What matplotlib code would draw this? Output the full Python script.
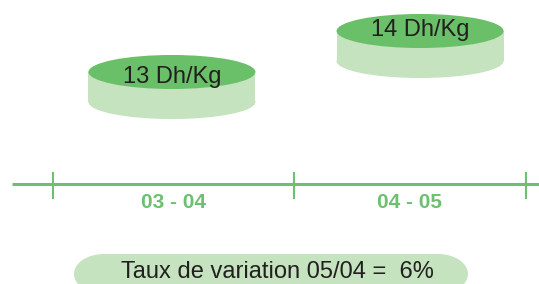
import matplotlib
matplotlib.use('Agg')
import matplotlib.pyplot as plt
from matplotlib.patches import Ellipse, Rectangle

# ─── Data ─────────────────────────────────────────────
periods = ['03 - 04', '04 - 05']
prices = [13, 14]
price_labels = ['13 Dh/Kg', '14 Dh/Kg']
variation_text = 'Taux de variation 05/04 =  6%'

# ─── Colors ───────────────────────────────────────────
TOP_GREEN = '#6abf69'
SIDE_GREEN = '#c4e3be'
AXIS_GREEN = '#6cc070'
TEXT_DARK = '#231f20'

plt.rcParams['font.family'] = ['Liberation Sans', 'DejaVu Sans']

fig = plt.figure(figsize=(5.39, 2.84), dpi=100)
fig.patch.set_facecolor('white')
ax = fig.add_axes([0, 0, 1, 1])
ax.set_xlim(-0.224, 2.055)
ax.set_ylim(7.829, 14.756)
ax.axis('off')

# disc geometry (data units)
half_w = 0.353
half_h = 0.415
thick = 0.732
centers = [0.503, 1.552]
label_dy = [-0.12, 0.02]
axis_y = 10.268
tick_x = [0, 1.019, 2]

# ─── Discs ────────────────────────────────────────────
for cx, val, lab, dy in zip(centers, prices, price_labels, label_dy):
    ax.add_patch(Ellipse((cx, val - thick), 2 * half_w, 2 * half_h,
                         fc=SIDE_GREEN, ec='none', zorder=2))
    ax.add_patch(Rectangle((cx - half_w, val - thick), 2 * half_w, thick,
                           fc=SIDE_GREEN, ec='none', zorder=2))
    ax.add_patch(Ellipse((cx, val), 2 * half_w, 2 * half_h,
                         fc=TOP_GREEN, ec='none', zorder=3))
    ax.text(cx, val + dy, lab, fontsize=17, color=TEXT_DARK,
            ha='center', va='center', zorder=4)

# ─── Time axis ────────────────────────────────────────
ax.plot([-0.173, 2.055], [axis_y, axis_y], color=AXIS_GREEN, lw=2.2,
        solid_capstyle='butt', zorder=1)
for tx in tick_x:
    ax.plot([tx, tx], [axis_y - 0.34, axis_y + 0.27], color=AXIS_GREEN,
            lw=1.5, zorder=1)
for i, p in enumerate(periods):
    ax.text((tick_x[i] + tick_x[i + 1]) / 2, axis_y - 0.44, p, fontsize=15,
            fontweight='bold', color=AXIS_GREEN, ha='center', va='center')

# ─── Variation pill (pixel coordinates) ───────────────
ax2 = fig.add_axes([0, 0, 1, 1])
ax2.set_xlim(0, 539)
ax2.set_ylim(284, 0)
ax2.axis('off')
ax2.patch.set_alpha(0)
for ex in (104, 438):
    ax2.add_patch(Ellipse((ex, 274), 60, 40, fc=SIDE_GREEN, ec='none'))
ax2.add_patch(Rectangle((104, 254), 334, 40, fc=SIDE_GREEN, ec='none'))
ax2.text(277, 272, variation_text, fontsize=17, color=TEXT_DARK,
         ha='center', va='center')

fig.savefig('out.png', dpi=100, facecolor='white')
